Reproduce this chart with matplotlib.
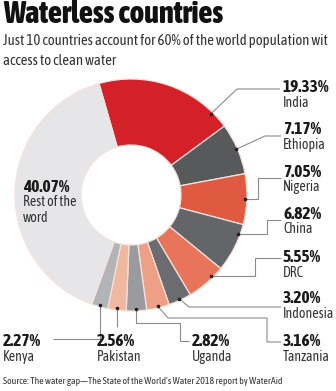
import numpy as np
import matplotlib
matplotlib.use('Agg')
import matplotlib.pyplot as plt

# data
countries = ['India', 'Ethiopia', 'Nigeria', 'China', 'DRC', 'Indonesia',
             'Tanzania', 'Uganda', 'Pakistan', 'Kenya', 'Rest of the\nword']
shares = [19.33, 7.17, 7.05, 6.82, 5.55, 3.20, 3.16, 2.82, 2.56, 2.27, 40.07]
pct_labels = ['19.33%', '7.17%', '7.05%', '6.82%', '5.55%', '3.20%',
              '3.16%', '2.82%', '2.56%', '2.27%', '40.07%']
colors = ['#d42029', '#58595b', '#e05a42', '#646568', '#e8755b', '#6b6c6f',
          '#eda086', '#9a9b9e', '#f1b8a0', '#b3b4b7', '#e6e6e8']

W, H = 336, 391
NARROW = ['Asap Condensed', 'DejaVu Sans']

fig = plt.figure(figsize=(W / 100, H / 100), dpi=100)
fig.patch.set_facecolor('white')
# one axes over the whole figure, 1 unit = 1 pixel
ax = fig.add_axes([0, 0, 1, 1])


def Y(y):
    # y measured from the top of the picture
    return H - y


cx, cy, R, hole = 131, Y(195), 116, 50
start = 106
wedges, _ = ax.pie(shares, colors=colors, startangle=start, counterclock=False,
                   center=(cx, cy), radius=R,
                   wedgeprops=dict(width=R - hole, edgecolor='#f6e2da', linewidth=0.9))
ax.set_xlim(0, W)
ax.set_ylim(0, H)
ax.set_aspect('auto')
ax.axis('off')

# where the leader dot sits inside each wedge (fraction along the wedge)
dot_frac = [0.87, 0.5, 0.5, 0.22, 0.3, 0.5, 0.5, 0.5, 0.5, 0.5]
edges = start - 3.6 * np.concatenate([[0], np.cumsum(shares)])
dots = []
for i, f in enumerate(dot_frac):
    th = np.radians(edges[i] + (edges[i + 1] - edges[i]) * f)
    dots.append((cx + 0.985 * R * np.cos(th), cy + 0.985 * R * np.sin(th)))

# leader paths after the dot (pixel coords from the top)
legs = [
    [(237, 89), (280, 89)],
    [(265, 136), (281, 136)],
    [('d', 258), (258, 178), (281, 178)],
    [('d', 267), (267, 220), (281, 220)],
    [('d', 255), (255, 258), (281, 258)],
    [(189, 307), (281, 307)],
    [(168, 318), (267, 318), (267, 342), (281, 342)],
    [(None, 323), (180, 323), (180, 341), (189, 341)],
    [(None, 327)],
    [(None, 339), (53, 339)],
]
for (dx, dy), leg in zip(dots, legs):
    xs, ys = [dx], [dy]
    for a, b in leg:
        if a == 'd':          # horizontal from the dot
            xs.append(b); ys.append(dy)
        elif a is None:       # vertical from the dot
            xs.append(dx); ys.append(Y(b))
        else:
            xs.append(a); ys.append(Y(b))
    ax.plot(xs, ys, color='#8a8b8e', lw=0.8, solid_capstyle='butt')
    ax.plot(dx, dy, 'o', ms=1.6, color='#222222')

# label positions: left x, y of percent line, y of name line
label_pos = [(283, 87, 103), (283, 129, 145), (283, 172, 187), (283, 214, 229),
             (283, 257, 273), (283, 298, 314), (283, 341, 357),
             (192, 341, 357), (97, 341, 357), (3, 341, 357), (23, 187, 210)]
for (x, yp, yn), pct, name in zip(label_pos, pct_labels, countries):
    ax.text(x, Y(yp), pct, fontsize=12.5, fontweight='bold', family=NARROW,
            color='#1a1a1a', va='center', ha='left')
    ax.text(x, Y(yn), name, fontsize=10, family=NARROW, color='#333333',
            va='center', ha='left', linespacing=1.1)

ax.text(3, Y(23), 'Waterless countries', fontsize=22, fontweight=800,
        family=NARROW, color='#111111', va='baseline', ha='left')
ax.text(3, Y(40.5), 'Just 10 countries account for 60% of the world population wit',
        fontsize=10.6, family=NARROW, color='#333333', va='center', ha='left')
ax.text(3, Y(61), 'access to clean water', fontsize=10.6, family=NARROW,
        color='#333333', va='center', ha='left')
ax.text(3, Y(382), "Source: The water gap\u2014The State of the World's Water 2018 report by WaterAid",
        fontsize=7, family=NARROW, color='#333333', va='center', ha='left')

fig.savefig('out.png', dpi=100)
